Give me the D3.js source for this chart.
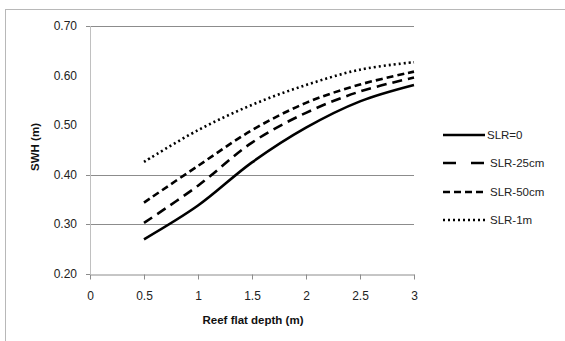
<!DOCTYPE html>
<html><head><meta charset="utf-8">
<script src="https://cdn.jsdelivr.net/npm/d3@7"></script>
<style>body{margin:0;background:#fff}text{font-family:"Liberation Sans",Arial,sans-serif}</style>
</head><body>
<svg id="c" width="565" height="341"></svg>
<script>
const depths = [0.5, 1, 1.5, 2, 2.5, 3];
const slr0 = [0.27, 0.338, 0.425, 0.495, 0.548, 0.581];
const slr25 = [0.303, 0.378, 0.465, 0.525, 0.568, 0.596];
const slr50 = [0.344, 0.418, 0.49, 0.545, 0.582, 0.608];
const slr1m = [0.426, 0.49, 0.541, 0.581, 0.612, 0.627];
const seriesNames = ["SLR=0", "SLR-25cm", "SLR-50cm", "SLR-1m"];
const xTicks = [0, 0.5, 1, 1.5, 2, 2.5, 3];
const yTicks = [0.2, 0.3, 0.4, 0.5, 0.6, 0.7];
const gridTicks = [0.3, 0.4, 0.7];

const svg = d3.select("#c");
svg.append("rect").attr("x",5.5).attr("y",9.5).attr("width",700).attr("height",500)
  .attr("fill","none").attr("stroke","#b8b8b8");

const x = d3.scaleLinear().domain([0,3]).range([90,414]);
const y = d3.scaleLinear().domain([0.2,0.7]).range([274,26]);

svg.append("g").selectAll("line").data(gridTicks).join("line")
  .attr("x1",86).attr("x2",414).attr("y1",d=>Math.round(y(d))+0.5).attr("y2",d=>Math.round(y(d))+0.5)
  .attr("stroke","#8c8c8c");
svg.append("line").attr("x1",86).attr("x2",90).attr("y1",274.5).attr("y2",274.5).attr("stroke","#8c8c8c");
svg.append("line").attr("x1",90.5).attr("x2",90.5).attr("y1",26).attr("y2",274).attr("stroke","#c0c0c0");

const xAxis = svg.append("g").attr("transform","translate(0,274.5)")
  .call(d3.axisBottom(x).tickValues(xTicks).tickFormat(d3.format("")).tickSize(5).tickSizeOuter(0).tickPadding(12));
xAxis.select(".domain").attr("stroke","#8c8c8c");
xAxis.selectAll(".tick line").attr("stroke","#8c8c8c");
xAxis.selectAll("text").attr("font-size","12px").attr("fill","#222").attr("font-family","Liberation Sans, Arial");

svg.append("g").selectAll("text").data(yTicks).join("text")
  .attr("x",77).attr("y",d=>y(d)+4).attr("text-anchor","end").attr("font-size","12px").attr("fill","#222")
  .text(d=>d.toFixed(2));

svg.append("text").attr("x",253).attr("y",324).attr("text-anchor","middle").attr("font-size","11.5px")
  .attr("font-weight","bold").attr("fill","#111").text("Reef flat depth (m)");
svg.append("text").attr("transform","translate(39,147) rotate(-90)").attr("text-anchor","middle")
  .attr("font-size","11.5px").attr("font-weight","bold").attr("fill","#111").text("SWH (m)");

const dashes = [null, "10,6", "7,4", "2,3"];
const legDashes = [null, "13,15", "7,4", "2,3"];
const data = [slr0, slr25, slr50, slr1m];
const line = d3.line().x((d,i)=>x(depths[i])).y(d=>y(d)).curve(d3.curveCatmullRom.alpha(0.5));
data.forEach((s,k)=>{
  svg.append("path").attr("d",line(s)).attr("fill","none").attr("stroke","#000")
    .attr("stroke-width",2.6).attr("stroke-dasharray",dashes[k]);
});

const legY = [135, 163, 192, 220];
seriesNames.forEach((n,k)=>{
  svg.append("line").attr("x1",443).attr("x2",485).attr("y1",legY[k]).attr("y2",legY[k])
    .attr("stroke","#000").attr("stroke-width",2.6).attr("stroke-dasharray",legDashes[k]);
  svg.append("text").attr("x",k===0?487:490).attr("y",legY[k]+4).attr("font-size","11.5px").attr("fill","#222").text(n);
});
</script>
</body></html>
